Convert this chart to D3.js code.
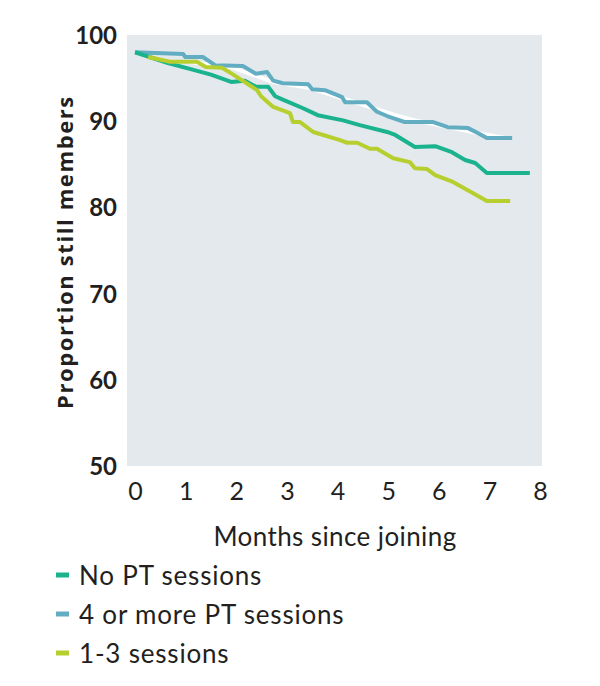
<!DOCTYPE html>
<html>
<head>
<meta charset="utf-8">
<script src="https://cdn.jsdelivr.net/npm/d3@7"></script>
<style>
body { margin: 0; background: #fff; }
text { font-family: Lato, "Open Sans", sans-serif; }
</style>
</head>
<body>
<div id="chart"></div>
<script>
// months, proportion still members
var noPT = [[0,98.0],[0.65,96.75],[1.19,95.9],[1.5,95.4],[1.9,94.55],[2.17,94.7],[2.39,94.0],[2.63,94.0],[2.77,92.9],[2.92,92.5],[3.32,91.5],[3.61,90.7],[4.11,90.1],[4.44,89.55],[4.98,88.75],[5.14,88.4],[5.53,87.0],[5.93,87.1],[6.26,86.4],[6.52,85.5],[6.72,85.15],[6.95,84.0],[7.8,84.0]]
var fourPlus = [[0,98.0],[0.95,97.8],[0.99,97.45],[1.34,97.45],[1.58,96.5],[2.13,96.4],[2.39,95.5],[2.61,95.7],[2.73,94.7],[2.92,94.4],[3.42,94.3],[3.5,93.7],[3.75,93.6],[4.01,93.0],[4.09,92.8],[4.15,92.2],[4.58,92.2],[4.78,91.1],[4.98,90.6],[5.33,89.9],[5.89,89.9],[6.18,89.3],[6.58,89.2],[6.78,88.6],[6.95,88.05],[7.45,88.05]]
var oneToThree = [[0.26,97.45],[0.69,96.9],[1.22,96.9],[1.4,96.3],[1.72,96.2],[1.94,95.4],[2.41,93.6],[2.49,92.9],[2.73,91.65],[3.06,90.95],[3.12,89.9],[3.26,89.9],[3.52,88.75],[4.05,87.8],[4.19,87.5],[4.39,87.5],[4.64,86.8],[4.78,86.8],[5.1,85.7],[5.43,85.25],[5.53,84.55],[5.77,84.45],[5.93,83.75],[6.28,82.95],[6.68,81.65],[6.95,80.75],[7.41,80.75]]
// pale trace sitting under the 4+ line
var whiteTrace = [[1.03,96.9],[1.88,96.3],[2.73,94.55],[3.46,93.85],[4.64,91.65],[5.14,90.7],[5.53,90.1],[6.78,88.6],[7.31,88.05]]

var xTicks = [0,1,2,3,4,5,6,7,8]
var yTicks = [50,60,70,80,90,100]
var legendLabels = ["No PT sessions", "4 or more PT sessions", "1-3 sessions"]
var colors = ["#1ab38e", "#62adc2", "#b6cf2f"]

var width = 600, height = 686

var svg = d3.select('#chart')
    .append('svg')
    .attr('width', width)
    .attr('height', height)

var x = d3.scaleLinear().domain([0, 8]).range([135, 540])
var y = d3.scaleLinear().domain([50, 100]).range([466, 35])

// plot background
svg.append('rect')
    .attr('x', 127)
    .attr('y', y(100))
    .attr('width', 542 - 127)
    .attr('height', y(50) - y(100))
    .attr('fill', '#e3e9ec')

var line = d3.line()
    .x(function(d){ return x(d[0]) })
    .y(function(d){ return y(d[1]) })

svg.append('path')
    .datum(whiteTrace)
    .attr('d', line)
    .attr('fill', 'none')
    .attr('stroke', '#ffffff')
    .attr('stroke-width', 4)

var series = [noPT, fourPlus, oneToThree]
// draw order: 4+ at back, then no PT, lime on top
;[1, 0, 2].forEach(function(i){
    svg.append('path')
        .datum(series[i])
        .attr('d', line)
        .attr('fill', 'none')
        .attr('stroke', colors[i])
        .attr('stroke-width', 4)
        .attr('stroke-linejoin', 'round')
})

// y axis labels
var yAxis = d3.axisLeft(y).tickValues(yTicks).tickSize(0).tickPadding(0)
var yg = svg.append('g')
    .attr('transform', 'translate(117,0)')
    .call(yAxis)
yg.select('.domain').remove()
yg.selectAll('text')
    .attr('dy', '0.35em')
    .style('font-family', 'Lato, sans-serif')
    .style('font-size', '24px')
    .style('font-weight', 'bold')
    .attr('fill', '#231f20')

// x axis labels
var xAxis = d3.axisBottom(x).tickValues(xTicks).tickSize(0).tickPadding(0)
var xg = svg.append('g')
    .attr('transform', 'translate(0,482)')
    .call(xAxis)
xg.select('.domain').remove()
xg.selectAll('text')
    .attr('dy', '0.71em')
    .style('font-family', 'Lato, sans-serif')
    .style('font-size', '25px')
    .attr('fill', '#231f20')

svg.append('text')
    .attr('x', 335)
    .attr('y', 546)
    .attr('text-anchor', 'middle')
    .style('font-size', '26px')
    .style('letter-spacing', '0.4px')
    .attr('fill', '#231f20')
    .text('Months since joining')

svg.append('text')
    .attr('transform', 'translate(73,252) rotate(-90)')
    .attr('text-anchor', 'middle')
    .style('font-family', '"Open Sans", sans-serif')
    .style('font-size', '22px')
    .style('font-weight', 'bold')
    .style('letter-spacing', '1.6px')
    .attr('fill', '#231f20')
    .text('Proportion still members')

// legend
var legend = svg.append('g')
var rows = legend.selectAll('g')
    .data(legendLabels)
    .enter()
    .append('g')
    .attr('transform', function(d, i){ return 'translate(56,' + (575 + i * 39) + ')' })
rows.append('rect')
    .attr('x', 0)
    .attr('y', -2.5)
    .attr('width', 13)
    .attr('height', 5)
    .attr('fill', function(d, i){ return colors[i] })
rows.append('text')
    .attr('x', 23)
    .attr('y', 1)
    .attr('dy', '0.35em')
    .style('font-size', '26px')
    .style('letter-spacing', '0.8px')
    .attr('fill', '#231f20')
    .text(function(d){ return d })
</script>
</body>
</html>
